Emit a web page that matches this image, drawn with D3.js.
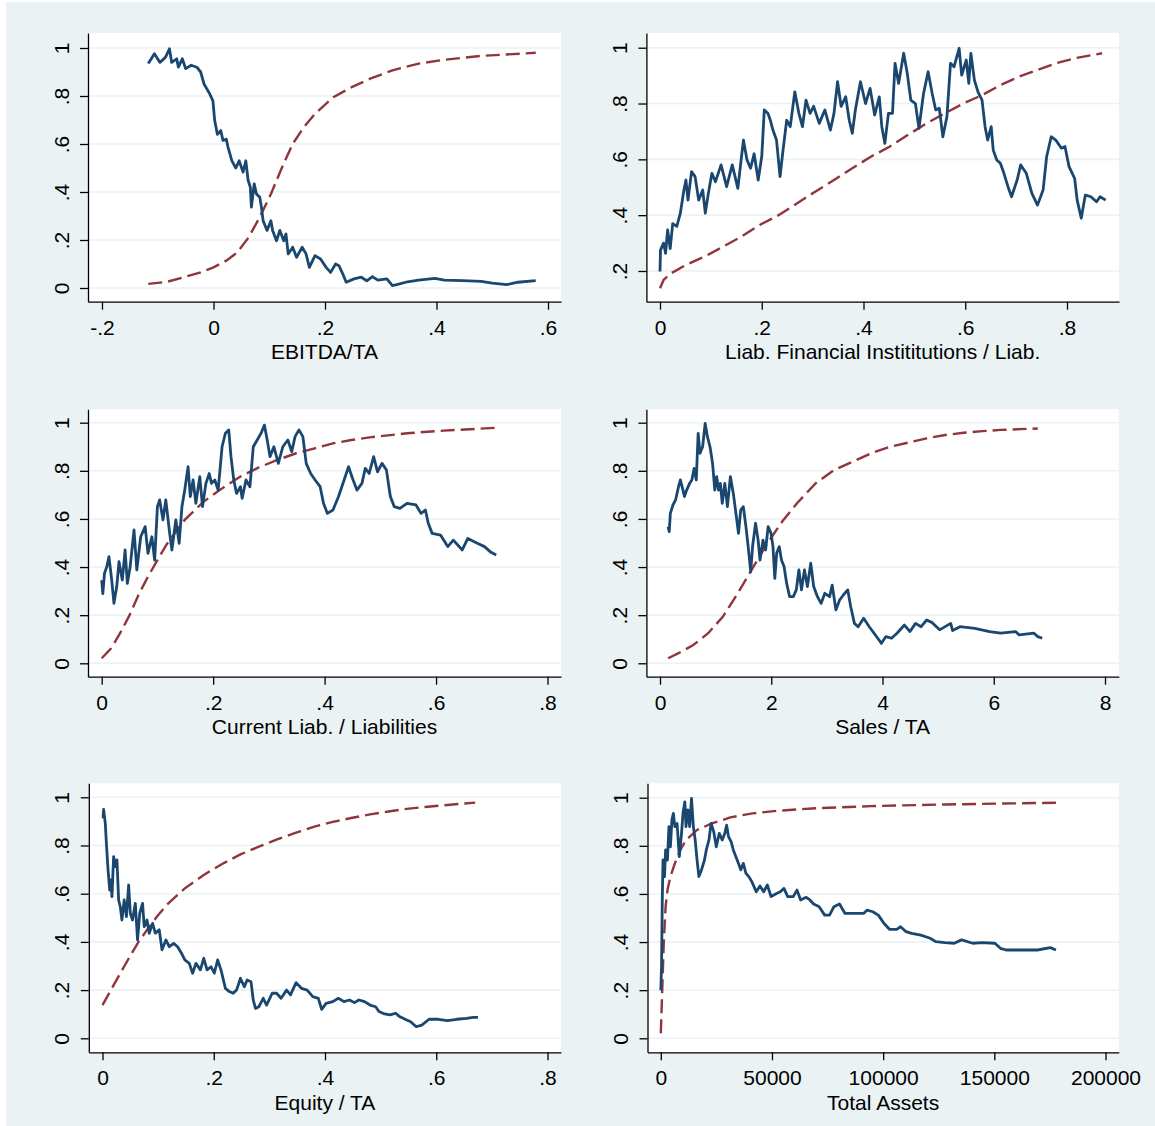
<!DOCTYPE html>
<html>
<head>
<meta charset="utf-8">
<script src="https://cdn.jsdelivr.net/npm/d3@7"></script>
<style>
  html, body { margin: 0; padding: 0; background: #ffffff; }
  svg { display: block; }
  text { font-family: "Liberation Sans", Arial, Helvetica, sans-serif; fill: #000; }
</style>
</head>
<body>
<svg id="chart" width="1155" height="1126"></svg>
<script>
// ---------------- DATA ----------------
const axisTitles = ["EBITDA/TA", "Liab. Financial Instititutions / Liab.", "Current Liab. / Liabilities",
                    "Sales / TA", "Equity / TA", "Total Assets"];

const xTicksEbitda = [-0.2, 0, 0.2, 0.4, 0.6];
const xTicksLiabFin = [0, 0.2, 0.4, 0.6, 0.8];
const xTicksCurLiab = [0, 0.2, 0.4, 0.6, 0.8];
const xTicksSales = [0, 2, 4, 6, 8];
const xTicksEquity = [0, 0.2, 0.4, 0.6, 0.8];
const xTicksAssets = [0, 50000, 100000, 150000, 200000];
const yTicksFull = [0, 0.2, 0.4, 0.6, 0.8, 1];
const yTicksLiabFin = [0.2, 0.4, 0.6, 0.8, 1];

// solid (navy) series: [x, y]
const ebitdaSolid = [[-0.117,0.935],[-0.106,0.976],[-0.096,0.94],[-0.086,0.962],[-0.079,0.997],[-0.075,0.94],[-0.066,0.955],[-0.063,0.92],[-0.056,0.955],[-0.05,0.914],[-0.04,0.928],[-0.03,0.92],[-0.023,0.9],[-0.017,0.85],[-0.007,0.81],[-0.001,0.78],[0.002,0.70],[0.007,0.64],[0.013,0.656],[0.017,0.615],[0.023,0.62],[0.026,0.587],[0.033,0.53],[0.04,0.50],[0.046,0.53],[0.053,0.483],[0.058,0.53],[0.062,0.45],[0.066,0.42],[0.068,0.337],[0.073,0.434],[0.077,0.392],[0.083,0.378],[0.086,0.337],[0.089,0.28],[0.096,0.24],[0.103,0.28],[0.106,0.24],[0.113,0.197],[0.119,0.24],[0.126,0.197],[0.13,0.225],[0.134,0.142],[0.142,0.17],[0.149,0.128],[0.159,0.17],[0.166,0.142],[0.172,0.086],[0.182,0.135],[0.192,0.121],[0.202,0.086],[0.21,0.065],[0.219,0.10],[0.225,0.093],[0.232,0.058],[0.238,0.024],[0.252,0.038],[0.265,0.045],[0.275,0.03],[0.285,0.047],[0.295,0.033],[0.311,0.038],[0.321,0.01],[0.334,0.017],[0.348,0.026],[0.368,0.033],[0.397,0.04],[0.414,0.033],[0.447,0.031],[0.48,0.028],[0.5,0.02],[0.526,0.014],[0.546,0.024],[0.578,0.031]];
const liabFinSolid = [[0,0.198],[0.001,0.275],[0.007,0.30],[0.011,0.263],[0.015,0.347],[0.02,0.28],[0.025,0.37],[0.033,0.36],[0.04,0.407],[0.047,0.49],[0.051,0.526],[0.055,0.454],[0.062,0.556],[0.069,0.538],[0.076,0.454],[0.084,0.49],[0.089,0.407],[0.095,0.478],[0.102,0.55],[0.109,0.52],[0.12,0.58],[0.131,0.502],[0.142,0.58],[0.153,0.496],[0.164,0.669],[0.171,0.598],[0.178,0.568],[0.185,0.62],[0.193,0.526],[0.2,0.61],[0.205,0.777],[0.212,0.765],[0.217,0.74],[0.222,0.705],[0.229,0.669],[0.236,0.538],[0.241,0.62],[0.249,0.74],[0.256,0.717],[0.265,0.842],[0.273,0.765],[0.28,0.717],[0.287,0.812],[0.295,0.765],[0.302,0.79],[0.313,0.729],[0.324,0.777],[0.335,0.705],[0.342,0.765],[0.349,0.878],[0.356,0.79],[0.365,0.824],[0.372,0.74],[0.378,0.693],[0.384,0.777],[0.394,0.878],[0.404,0.80],[0.413,0.854],[0.422,0.759],[0.431,0.824],[0.436,0.717],[0.442,0.657],[0.449,0.765],[0.457,0.765],[0.462,0.944],[0.469,0.872],[0.479,0.98],[0.486,0.908],[0.493,0.812],[0.502,0.80],[0.509,0.711],[0.518,0.836],[0.527,0.914],[0.535,0.836],[0.542,0.777],[0.549,0.783],[0.556,0.681],[0.564,0.753],[0.571,0.944],[0.578,0.932],[0.588,0.998],[0.593,0.902],[0.602,0.956],[0.607,0.872],[0.611,0.98],[0.618,0.884],[0.625,0.842],[0.633,0.812],[0.639,0.717],[0.644,0.669],[0.651,0.717],[0.655,0.633],[0.662,0.598],[0.669,0.586],[0.676,0.55],[0.684,0.502],[0.691,0.466],[0.702,0.526],[0.709,0.58],[0.72,0.55],[0.731,0.478],[0.742,0.436],[0.753,0.49],[0.76,0.61],[0.769,0.681],[0.778,0.669],[0.789,0.64],[0.796,0.646],[0.804,0.574],[0.815,0.532],[0.82,0.454],[0.828,0.389],[0.836,0.472],[0.847,0.466],[0.858,0.448],[0.865,0.466],[0.876,0.454]];
const curLiabSolid = [[0,0.346],[0.002,0.29],[0.005,0.374],[0.009,0.40],[0.013,0.443],[0.018,0.346],[0.022,0.249],[0.027,0.319],[0.031,0.422],[0.037,0.346],[0.042,0.471],[0.046,0.332],[0.051,0.40],[0.058,0.554],[0.063,0.388],[0.07,0.526],[0.078,0.568],[0.083,0.457],[0.09,0.526],[0.095,0.429],[0.10,0.651],[0.104,0.679],[0.11,0.596],[0.115,0.679],[0.122,0.54],[0.126,0.471],[0.133,0.596],[0.139,0.499],[0.144,0.651],[0.149,0.72],[0.155,0.817],[0.159,0.693],[0.164,0.762],[0.169,0.665],[0.176,0.776],[0.181,0.651],[0.187,0.748],[0.193,0.789],[0.197,0.748],[0.203,0.762],[0.209,0.72],[0.216,0.90],[0.222,0.956],[0.228,0.97],[0.232,0.859],[0.237,0.762],[0.242,0.706],[0.249,0.734],[0.252,0.686],[0.259,0.762],[0.266,0.734],[0.272,0.90],[0.279,0.928],[0.286,0.956],[0.292,0.99],[0.297,0.928],[0.302,0.859],[0.309,0.90],[0.317,0.831],[0.325,0.90],[0.334,0.928],[0.341,0.88],[0.347,0.942],[0.354,0.97],[0.361,0.942],[0.367,0.831],[0.375,0.789],[0.383,0.762],[0.392,0.734],[0.398,0.665],[0.405,0.623],[0.415,0.637],[0.425,0.693],[0.435,0.762],[0.443,0.817],[0.45,0.769],[0.458,0.72],[0.467,0.748],[0.473,0.81],[0.48,0.789],[0.488,0.859],[0.495,0.796],[0.503,0.831],[0.511,0.803],[0.518,0.693],[0.525,0.651],[0.535,0.644],[0.548,0.665],[0.564,0.658],[0.573,0.623],[0.581,0.637],[0.586,0.582],[0.593,0.54],[0.608,0.533],[0.621,0.485],[0.631,0.512],[0.647,0.471],[0.657,0.519],[0.674,0.499],[0.687,0.485],[0.697,0.464],[0.708,0.45]];
const salesSolid = [[0.146,0.568],[0.166,0.547],[0.186,0.623],[0.233,0.658],[0.28,0.679],[0.333,0.734],[0.366,0.762],[0.413,0.72],[0.439,0.693],[0.479,0.72],[0.533,0.748],[0.573,0.762],[0.613,0.81],[0.652,0.762],[0.686,0.956],[0.719,0.873],[0.766,0.90],[0.812,0.997],[0.852,0.942],[0.899,0.90],[0.945,0.831],[0.985,0.72],[1.019,0.776],[1.052,0.72],[1.085,0.748],[1.119,0.665],[1.165,0.748],[1.212,0.651],[1.265,0.776],[1.318,0.706],[1.365,0.623],[1.411,0.54],[1.451,0.637],[1.498,0.651],[1.545,0.568],[1.585,0.485],[1.631,0.381],[1.664,0.485],[1.718,0.582],[1.764,0.512],[1.798,0.429],[1.851,0.512],[1.898,0.471],[1.944,0.568],[1.997,0.54],[2.031,0.485],[2.064,0.353],[2.097,0.457],[2.144,0.485],[2.184,0.429],[2.23,0.402],[2.277,0.332],[2.33,0.277],[2.397,0.277],[2.45,0.305],[2.497,0.388],[2.543,0.305],[2.597,0.388],[2.65,0.319],[2.71,0.416],[2.763,0.319],[2.83,0.277],[2.896,0.249],[2.963,0.291],[3.049,0.277],[3.096,0.325],[3.162,0.222],[3.229,0.263],[3.296,0.284],[3.375,0.305],[3.429,0.235],[3.495,0.166],[3.562,0.152],[3.662,0.187],[3.762,0.152],[3.848,0.125],[3.915,0.104],[3.981,0.083],[4.061,0.111],[4.161,0.104],[4.261,0.125],[4.394,0.159],[4.494,0.132],[4.594,0.166],[4.694,0.152],[4.794,0.18],[4.894,0.169],[5.027,0.139],[5.226,0.166],[5.26,0.136],[5.393,0.152],[5.659,0.145],[5.925,0.132],[6.125,0.125],[6.392,0.132],[6.458,0.118],[6.724,0.125],[6.791,0.111],[6.871,0.104]];
const equitySolid = [[0.001,0.913],[0.002,0.95],[0.005,0.892],[0.007,0.809],[0.01,0.698],[0.013,0.615],[0.015,0.657],[0.017,0.588],[0.02,0.754],[0.023,0.712],[0.026,0.74],[0.029,0.574],[0.032,0.546],[0.035,0.491],[0.039,0.574],[0.043,0.505],[0.047,0.636],[0.05,0.519],[0.054,0.491],[0.059,0.56],[0.063,0.408],[0.067,0.519],[0.072,0.56],[0.075,0.463],[0.08,0.491],[0.084,0.436],[0.09,0.477],[0.095,0.436],[0.102,0.45],[0.107,0.367],[0.114,0.408],[0.12,0.38],[0.128,0.394],[0.135,0.38],[0.142,0.353],[0.148,0.325],[0.156,0.311],[0.162,0.27],[0.168,0.311],[0.176,0.284],[0.182,0.332],[0.188,0.284],[0.195,0.297],[0.201,0.27],[0.207,0.325],[0.213,0.284],[0.221,0.207],[0.228,0.194],[0.235,0.187],[0.241,0.20],[0.248,0.249],[0.255,0.214],[0.26,0.242],[0.267,0.235],[0.271,0.159],[0.275,0.124],[0.281,0.131],[0.289,0.166],[0.295,0.138],[0.305,0.187],[0.313,0.187],[0.321,0.166],[0.331,0.20],[0.338,0.18],[0.348,0.231],[0.358,0.207],[0.368,0.20],[0.378,0.173],[0.388,0.166],[0.394,0.12],[0.402,0.145],[0.414,0.152],[0.424,0.166],[0.434,0.152],[0.444,0.159],[0.453,0.148],[0.461,0.159],[0.471,0.152],[0.481,0.138],[0.491,0.131],[0.497,0.111],[0.507,0.101],[0.517,0.097],[0.527,0.104],[0.534,0.09],[0.544,0.079],[0.554,0.069],[0.564,0.048],[0.574,0.055],[0.587,0.079],[0.604,0.079],[0.62,0.073],[0.637,0.079],[0.654,0.083],[0.667,0.087],[0.675,0.087]];
const assetsSolid = [[0,0.20],[333,0.298],[666,0.575],[1000,0.741],[1664,0.672],[2163,0.783],[2995,0.741],[3660,0.88],[4326,0.796],[4992,0.907],[5657,0.935],[6323,0.88],[7321,0.893],[8319,0.755],[9318,0.852],[9983,0.935],[10815,0.983],[11314,0.88],[12146,0.949],[12978,0.88],[13810,0.997],[14642,0.88],[15474,0.824],[16306,0.741],[17138,0.672],[18303,0.70],[19634,0.741],[20466,0.783],[21631,0.824],[22629,0.893],[23794,0.859],[24958,0.796],[26290,0.852],[27621,0.824],[28785,0.852],[29617,0.886],[30449,0.838],[31614,0.817],[32612,0.783],[33777,0.755],[34942,0.727],[35940,0.70],[37105,0.727],[38270,0.686],[39601,0.672],[40932,0.651],[42928,0.609],[44592,0.633],[46256,0.609],[47920,0.637],[49584,0.589],[52080,0.602],[53744,0.609],[55408,0.623],[57072,0.589],[59567,0.589],[61231,0.616],[62895,0.575],[65391,0.586],[67055,0.575],[68719,0.558],[71215,0.547],[73710,0.512],[75874,0.512],[77870,0.547],[80366,0.558],[82862,0.519],[87854,0.519],[91181,0.519],[92845,0.533],[95341,0.526],[97837,0.512],[100333,0.478],[102829,0.453],[106156,0.453],[107820,0.464],[110316,0.443],[112812,0.436],[116972,0.429],[121131,0.416],[123627,0.402],[127787,0.398],[131947,0.395],[135275,0.409],[140266,0.395],[144426,0.398],[150250,0.395],[152745,0.374],[155241,0.367],[161065,0.367],[169384,0.367],[175208,0.377],[177704,0.367]];

// dashed (maroon) series: [x, y]
const ebitdaDashed = [[-0.117,0.017],[-0.083,0.026],[-0.05,0.047],[-0.023,0.065],[0,0.086],[0.023,0.114],[0.043,0.149],[0.063,0.211],[0.083,0.295],[0.103,0.392],[0.123,0.503],[0.142,0.60],[0.162,0.67],[0.182,0.726],[0.215,0.795],[0.248,0.837],[0.281,0.872],[0.321,0.907],[0.368,0.935],[0.414,0.951],[0.48,0.967],[0.578,0.98]];
const liabFinDashed = [[0,0.138],[0.007,0.168],[0.022,0.192],[0.051,0.222],[0.087,0.251],[0.124,0.287],[0.16,0.323],[0.196,0.365],[0.233,0.40],[0.269,0.442],[0.305,0.484],[0.342,0.526],[0.378,0.568],[0.415,0.61],[0.451,0.645],[0.487,0.687],[0.524,0.729],[0.56,0.765],[0.596,0.80],[0.633,0.83],[0.669,0.866],[0.705,0.896],[0.742,0.92],[0.778,0.944],[0.815,0.962],[0.869,0.98]];
const curLiabDashed = [[0,0.021],[0.017,0.062],[0.033,0.125],[0.05,0.20],[0.066,0.284],[0.083,0.36],[0.10,0.429],[0.116,0.492],[0.133,0.547],[0.149,0.596],[0.183,0.672],[0.216,0.727],[0.249,0.776],[0.282,0.814],[0.315,0.845],[0.349,0.873],[0.382,0.893],[0.415,0.914],[0.448,0.928],[0.481,0.939],[0.548,0.956],[0.614,0.967],[0.708,0.979]];
const salesDashed = [[0.146,0.021],[0.333,0.042],[0.599,0.076],[0.866,0.125],[1.132,0.194],[1.398,0.291],[1.664,0.395],[1.931,0.499],[2.197,0.589],[2.463,0.665],[2.796,0.748],[3.129,0.803],[3.462,0.838],[3.795,0.873],[4.128,0.90],[4.461,0.917],[4.794,0.935],[5.127,0.949],[5.459,0.958],[5.792,0.965],[6.125,0.97],[6.791,0.976]];
const equityDashed = [[0,0.138],[0.015,0.20],[0.032,0.27],[0.049,0.339],[0.065,0.401],[0.082,0.456],[0.098,0.505],[0.115,0.553],[0.148,0.622],[0.182,0.678],[0.215,0.723],[0.248,0.763],[0.281,0.795],[0.315,0.826],[0.348,0.853],[0.381,0.878],[0.414,0.898],[0.447,0.914],[0.481,0.929],[0.514,0.941],[0.547,0.952],[0.58,0.96],[0.614,0.967],[0.67,0.978]];
const assetsDashed = [[0,0.021],[499,0.159],[1331,0.395],[2163,0.547],[2995,0.616],[4326,0.672],[6323,0.727],[8819,0.783],[11314,0.824],[16306,0.866],[22962,0.893],[31281,0.918],[41265,0.935],[52912,0.946],[69551,0.956],[94509,0.965],[127787,0.972],[177704,0.979]];

// ---------------- LAYOUT ----------------
const NAVY = "#1a476f", MAROON = "#90353b", BG = "#eaf2f3";
const FONT = "21px";
const panels = [
  {title: axisTitles[0], xt: xTicksEbitda, yt: yTicksFull, solid: ebitdaSolid, dashed: ebitdaDashed,
   x0: 88, x1: 561, y0: 33, y1: 301.7, xa: [-0.2, 0.6], xp: [102, 548], ya: [0, 1], yp: [288, 48]},
  {title: axisTitles[1], xt: xTicksLiabFin, yt: yTicksLiabFin, solid: liabFinSolid, dashed: liabFinDashed,
   x0: 646.4, x1: 1119, y0: 33, y1: 301.7, xa: [0, 0.8], xp: [660, 1067], ya: [0.2, 1], yp: [271, 47.7]},
  {title: axisTitles[2], xt: xTicksCurLiab, yt: yTicksFull, solid: curLiabSolid, dashed: curLiabDashed,
   x0: 88, x1: 561, y0: 409.3, y1: 676.7, xa: [0, 0.8], xp: [101.7, 547.5], ya: [0, 1], yp: [663.3, 422.7]},
  {title: axisTitles[3], xt: xTicksSales, yt: yTicksFull, solid: salesSolid, dashed: salesDashed,
   x0: 646.4, x1: 1118.8, y0: 409.3, y1: 676.7, xa: [0, 8], xp: [660, 1105], ya: [0, 1], yp: [663.3, 422.7]},
  {title: axisTitles[4], xt: xTicksEquity, yt: yTicksFull, solid: equitySolid, dashed: equityDashed,
   x0: 88.8, x1: 561, y0: 783.3, y1: 1052.3, xa: [0, 0.8], xp: [102.5, 547.5], ya: [0, 1], yp: [1038.3, 797.3]},
  {title: axisTitles[5], xt: xTicksAssets, yt: yTicksFull, solid: assetsSolid, dashed: assetsDashed,
   x0: 647.5, x1: 1118.8, y0: 783.3, y1: 1052.3, xa: [0, 200000], xp: [660.8, 1105.5], ya: [0, 1], yp: [1038.3, 797.7]}
];

function fmt(v) {
  if (Math.abs(v) >= 1000) return String(Math.round(v));
  if (v === 0) return "0";
  let s = String(+v.toFixed(4));
  return s.replace(/^(-?)0\./, "$1.");
}

const svg = d3.select("#chart");
svg.append("rect").attr("x", 6).attr("y", 2).attr("width", 1155 - 6).attr("height", 1126 - 2).attr("fill", BG);

panels.forEach(p => {
  const bx = d3.scaleLinear().domain(p.xa).range(p.xp);
  const by = d3.scaleLinear().domain(p.ya).range(p.yp);
  const x = d3.scaleLinear().domain([bx.invert(p.x0), bx.invert(p.x1)]).range([p.x0, p.x1]);
  const y = d3.scaleLinear().domain([by.invert(p.y1), by.invert(p.y0)]).range([p.y1, p.y0]);

  const g = svg.append("g");
  g.append("rect").attr("x", p.x0).attr("y", p.y0).attr("width", p.x1 - p.x0).attr("height", p.y1 - p.y0)
    .attr("fill", "#ffffff");

  // grid
  g.selectAll(".grid").data(p.yt).enter().append("line")
    .attr("x1", p.x0).attr("x2", p.x1).attr("y1", d => y(d)).attr("y2", d => y(d))
    .attr("stroke", BG).attr("stroke-width", 1.6);

  // lines
  const line = d3.line().x(d => x(d[0])).y(d => y(d[1]));
  g.append("path").datum(p.dashed).attr("d", line).attr("fill", "none")
    .attr("stroke", MAROON).attr("stroke-width", 2.4).attr("stroke-dasharray", "14,6");
  g.append("path").datum(p.solid).attr("d", line).attr("fill", "none")
    .attr("stroke", NAVY).attr("stroke-width", 2.8).attr("stroke-linejoin", "round");

  // x axis
  const xa = g.append("g").attr("transform", `translate(0,${p.y1})`)
    .call(d3.axisBottom(x).tickValues(p.xt).tickSize(8).tickSizeOuter(0).tickFormat(fmt));
  xa.select(".domain").attr("stroke", "#000").attr("stroke-width", 1.3);
  xa.selectAll(".tick line").attr("stroke", "#000").attr("stroke-width", 1.3);
  xa.selectAll(".tick text").attr("y", 33).attr("dy", 0)
    .style("font-size", FONT).style("font-family", "'Liberation Sans', Arial, sans-serif").attr("fill", "#000");

  // y axis
  const ya = g.append("g").attr("transform", `translate(${p.x0},0)`)
    .call(d3.axisLeft(y).tickValues(p.yt).tickSize(8).tickSizeOuter(0).tickFormat(fmt));
  ya.select(".domain").attr("stroke", "#000").attr("stroke-width", 1.3);
  ya.selectAll(".tick line").attr("stroke", "#000").attr("stroke-width", 1.3);
  ya.selectAll(".tick text").attr("transform", "rotate(-90)").attr("x", 0).attr("y", -19.5).attr("dy", 0)
    .attr("text-anchor", "middle")
    .style("font-size", FONT).style("font-family", "'Liberation Sans', Arial, sans-serif").attr("fill", "#000");

  // axis title
  g.append("text").attr("x", (p.x0 + p.x1) / 2).attr("y", p.y1 + 57.5).attr("text-anchor", "middle")
    .style("font-size", FONT).text(p.title);
});
</script>
</body>
</html>
